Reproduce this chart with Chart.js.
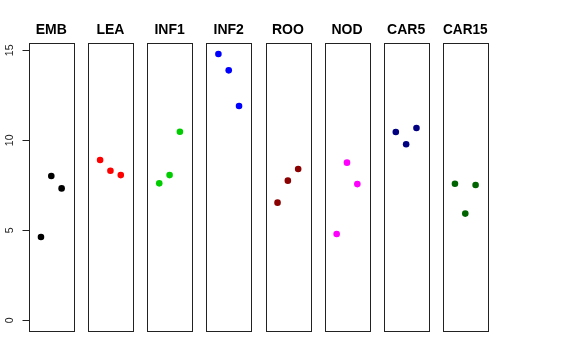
<!DOCTYPE html>
<html>
<head>
<meta charset="utf-8">
<script src="https://cdn.jsdelivr.net/npm/chart.js@4"></script>
<style>
  html, body { margin: 0; padding: 0; background: #fff; }
  #wrap { position: relative; width: 576px; height: 360px; }
  #wrap canvas { position: absolute; left: 0; top: 0; }
</style>
</head>
<body>
<div id="wrap"></div>
<script>
// ---- data ----
const panels = ["EMB", "LEA", "INF1", "INF2", "ROO", "NOD", "CAR5", "CAR15"];
const replicate = [1, 2, 3];
const EMB   = [4.63, 8.02, 7.33];
const LEA   = [8.91, 8.31, 8.07];
const INF1  = [7.61, 8.07, 10.48];
const INF2  = [14.80, 13.89, 11.91];
const ROO   = [6.54, 7.76, 8.41];
const NOD   = [4.80, 8.76, 7.57];
const CAR5  = [10.46, 9.78, 10.69];
const CAR15 = [7.59, 5.93, 7.52];
const yTicks = [0, 5, 10, 15];
const panelColors = ["#000000", "#FF0000", "#00CD00", "#0000FF", "#8B0000", "#FF00FF", "#000080", "#006400"];
const seriesValues = [EMB, LEA, INF1, INF2, ROO, NOD, CAR5, CAR15];

// ---- layout ----
const W = 576, H = 360;
const firstLeft = 29, step = 59.14, panelW = 44.6;
const plotTop = 43.3, plotBottom = 331;
const padTop = 22.2, titleSize = 14;
const yLo = 0, yHi = 14.8, yExt = 0.04 * (yHi - yLo);
const xLo = 0, xHi = 4, xExt = 0.04 * (xHi - xLo);
const FONT = "'Liberation Sans', Arial, Helvetica, sans-serif";

const boxPlugin = {
  id: 'box',
  afterDraw(chart) {
    const a = chart.chartArea, ctx = chart.ctx;
    ctx.save();
    ctx.strokeStyle = '#222';
    ctx.lineWidth = 1;
    ctx.strokeRect(Math.round(a.left) + 0.5, Math.round(a.top) + 0.5,
                   Math.round(a.right - a.left), Math.round(a.bottom - a.top));
    ctx.restore();
  }
};

const yAxisPlugin = {
  id: 'raxis',
  afterDraw(chart) {
    const ys = chart.scales.y, a = chart.chartArea, ctx = chart.ctx;
    const x0 = Math.round(a.left) + 0.5;
    ctx.save();
    ctx.strokeStyle = '#222';
    ctx.lineWidth = 1;
    ctx.beginPath();
    ctx.moveTo(x0, Math.round(ys.getPixelForValue(yTicks[0])) + 0.5);
    ctx.lineTo(x0, Math.round(ys.getPixelForValue(yTicks[yTicks.length - 1])) + 0.5);
    yTicks.forEach(v => {
      const py = Math.round(ys.getPixelForValue(v)) + 0.5;
      ctx.moveTo(x0 - 7, py);
      ctx.lineTo(x0, py);
    });
    ctx.stroke();
    ctx.fillStyle = '#222';
    ctx.font = "10.5px " + FONT;
    ctx.textAlign = 'center';
    ctx.textBaseline = 'middle';
    yTicks.forEach(v => {
      const py = ys.getPixelForValue(v);
      ctx.save();
      ctx.translate(10.5, py);
      ctx.rotate(-Math.PI / 2);
      ctx.fillText(String(v), 0, 0);
      ctx.restore();
    });
    ctx.restore();
  }
};

const wrap = document.getElementById('wrap');
panels.forEach((name, i) => {
  const cv = document.createElement('canvas');
  cv.width = W; cv.height = H;
  cv.style.width = W + 'px'; cv.style.height = H + 'px';
  wrap.appendChild(cv);
  const left = firstLeft + i * step;
  const right = left + panelW;
  const plugins = [boxPlugin];
  if (i === 0) plugins.push(yAxisPlugin);
  new Chart(cv, {
    type: 'scatter',
    data: {
      datasets: [{
        label: name,
        data: replicate.map((r, j) => ({ x: r, y: seriesValues[i][j] })),
        backgroundColor: panelColors[i],
        borderColor: panelColors[i],
        borderWidth: 0,
        pointRadius: 3.3,
        pointHoverRadius: 3.3
      }]
    },
    options: {
      responsive: false,
      animation: false,
      devicePixelRatio: 1,
      events: [],
      layout: {
        padding: { left: left, right: W - right, top: padTop, bottom: H - plotBottom }
      },
      plugins: {
        legend: { display: false },
        tooltip: { enabled: false },
        title: {
          display: true,
          text: name,
          color: '#000',
          font: { family: FONT, size: titleSize, weight: 'bold', lineHeight: 1.2 },
          padding: { top: 0, bottom: plotTop - padTop - titleSize * 1.2 }
        }
      },
      scales: {
        x: { type: 'linear', display: false, min: xLo - xExt, max: xHi + xExt },
        y: { type: 'linear', display: false, min: yLo - yExt, max: yHi + yExt }
      }
    },
    plugins: plugins
  });
});
</script>
</body>
</html>
